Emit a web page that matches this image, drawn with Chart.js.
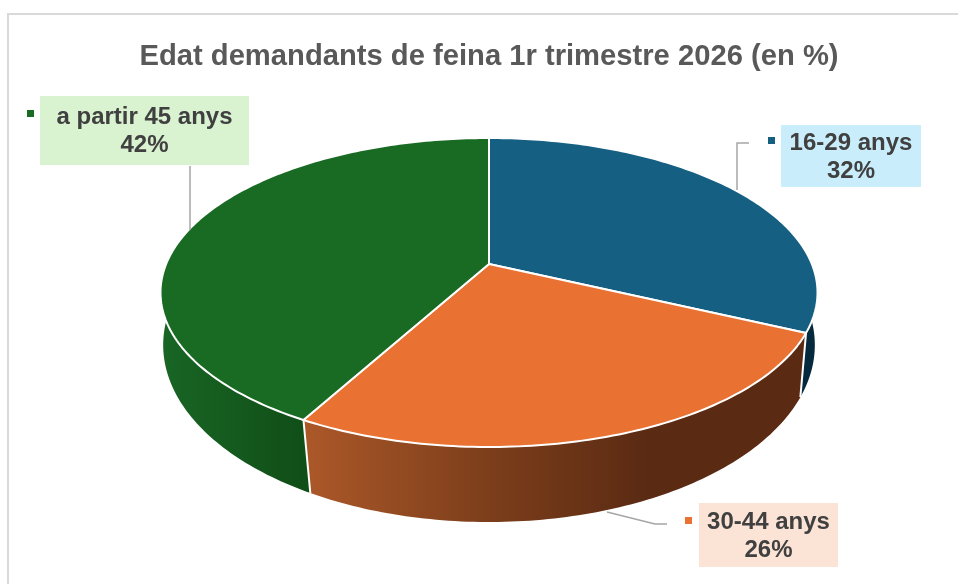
<!DOCTYPE html>
<html>
<head>
<meta charset="utf-8">
<script src="https://cdn.jsdelivr.net/npm/chart.js@4/dist/chart.umd.min.js"></script>
<style>html,body{margin:0;padding:0;background:#fff}canvas{display:block}</style>
</head>
<body>
<canvas id="c" width="958" height="584"></canvas>
<script>
const titleText = "Edat demandants de feina 1r trimestre 2026 (en %)";
const categories = ["16-29 anys", "30-44 anys", "a partir 45 anys"];
const values = [32, 26, 42];
const topColors = ["#156082", "#E97132", "#196B24"];
const labelFills = ["#CAEDFB", "#FBE3D6", "#D9F2D0"];
const labelBoxes = [[781,125,140,62],[699,503,139,64],[40,96,209,69]];
const labelMarkers = [[768,137],[685,517],[27,110]];
const leaderLines = [[[749,143],[737,143],[737,190]],[[607,512],[655,524],[667,524]],[[190,166],[190,230]]];
const wallGradients = [
  [[800,"#05293D"],[818,"#05293D"]],
  [[305,"#AC5829"],[480,"#7E3F1B"],[650,"#5A2A13"]],
  [[165,"#186524"],[300,"#114F18"]]
];

// perspective of the pie's top and bottom faces, in units of the arc's radius
const top3d = {ax:1.774, by:0.820, k:0.1845, dy:0};
const bot3d = {ax:1.770, by:0.9505, k:0.15, dy:0.2995};
function proj(el, f, ang){
  const u = Math.cos(ang), v = Math.sin(ang), w = 1 - f.k*v, r = el.outerRadius;
  return [el.x + r*f.ax*u/w, el.y + r*f.dy + r*f.by*v/w];
}
function rim(ctx, el, f, a0, a1, first){
  const n = Math.max(8, Math.ceil(Math.abs(a1-a0)*60));
  for(let i=0;i<=n;i++){
    const p = proj(el, f, a0+(a1-a0)*i/n);
    if(i===0 && first) ctx.moveTo(p[0],p[1]); else ctx.lineTo(p[0],p[1]);
  }
}
const pie3d = {
  id:"pie3d",
  beforeDraw(chart){
    const ctx = chart.ctx;
    ctx.save();
    ctx.fillStyle="#fff"; ctx.fillRect(0,0,958,584);
    ctx.strokeStyle="#D9D9D9"; ctx.lineWidth=2;
    ctx.strokeRect(8,14,1000,700);
    ctx.restore();
  },
  beforeDatasetDraw(chart, args){
    const ctx = chart.ctx, arcs = args.meta.data;
    ctx.save();
    // walls
    arcs.forEach((el,i)=>{
      const g = ctx.createLinearGradient(wallGradients[i][0][0],0,wallGradients[i][wallGradients[i].length-1][0],0);
      const x0 = wallGradients[i][0][0], x1 = wallGradients[i][wallGradients[i].length-1][0];
      wallGradients[i].forEach(s=>g.addColorStop((s[0]-x0)/(x1-x0), s[1]));
      ctx.beginPath();
      rim(ctx, el, top3d, el.startAngle, el.endAngle, true);
      rim(ctx, el, bot3d, el.endAngle, el.startAngle, false);
      ctx.closePath();
      ctx.fillStyle = g; ctx.fill();
    });
    // wall separators
    ctx.strokeStyle="#fff"; ctx.lineWidth=2;
    arcs.forEach(el=>{
      if(Math.sin(el.endAngle)>0){
        const a=proj(el,top3d,el.endAngle), b=proj(el,bot3d,el.endAngle);
        ctx.beginPath(); ctx.moveTo(a[0],a[1]); ctx.lineTo(b[0],b[1]); ctx.stroke();
      }
    });
    // top faces
    arcs.forEach((el,i)=>{
      ctx.beginPath();
      ctx.moveTo(el.x, el.y);
      rim(ctx, el, top3d, el.startAngle, el.endAngle, false);
      ctx.closePath();
      ctx.fillStyle = topColors[i]; ctx.fill();
      ctx.lineJoin="round"; ctx.lineWidth=2; ctx.strokeStyle="#fff"; ctx.stroke();
    });
    ctx.restore();
    return false;
  },
  afterDatasetsDraw(chart){
    const ctx = chart.ctx;
    ctx.save();
    leaderLines.forEach(pts=>{
      ctx.beginPath();
      pts.forEach((p,i)=> i? ctx.lineTo(p[0],p[1]) : ctx.moveTo(p[0],p[1]));
      ctx.strokeStyle="#A6A6A6"; ctx.lineWidth=1.5; ctx.stroke();
    });
    categories.forEach((c,i)=>{
      const b = labelBoxes[i], m = labelMarkers[i];
      ctx.fillStyle = labelFills[i]; ctx.fillRect(b[0],b[1],b[2],b[3]);
      ctx.fillStyle = topColors[i]; ctx.fillRect(m[0],m[1],7,7);
      ctx.fillStyle = "#404040";
      ctx.font = "bold 24px 'Liberation Sans'";
      ctx.textAlign="center"; ctx.textBaseline="middle";
      const cx = b[0]+b[2]/2, cy = b[1]+b[3]/2;
      ctx.fillText(c, cx, cy-13);
      ctx.fillText(values[i]+"%", cx, cy+15);
    });
    ctx.restore();
  }
};
new Chart(document.getElementById("c"),{
  type:"pie",
  data:{labels:categories,datasets:[{data:values,backgroundColor:topColors,borderWidth:0}]},
  plugins:[pie3d],
  options:{
    responsive:false,animation:false,
    layout:{padding:{left:20,right:0,top:39.5,bottom:138}},
    plugins:{
      legend:{display:false},tooltip:{enabled:false},
      title:{display:true,text:titleText,color:"#595959",
        font:{family:"'Liberation Sans'",size:29.2,weight:"bold"},padding:{top:0,bottom:7.46}}
    }
  }
});
</script>
</body>
</html>
